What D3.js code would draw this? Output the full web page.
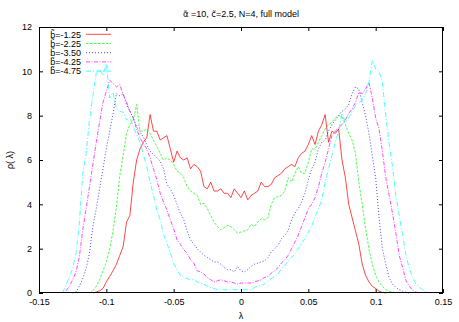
<!DOCTYPE html>
<html><head><meta charset="utf-8">
<script src="https://cdn.jsdelivr.net/npm/d3@7"></script>
<style>
body{margin:0;background:#fff;}
text{font-family:"Liberation Sans",Arial,sans-serif;fill:#000;}
</style></head>
<body><svg id="c" width="459" height="322"></svg>
<script>
const lambda = [-0.14,-0.1375,-0.135,-0.1325,-0.13,-0.1275,-0.125,-0.1225,-0.12,-0.1175,-0.115,-0.1125,-0.11,-0.1075,-0.105,-0.1025,-0.1,-0.0975,-0.095,-0.0925,-0.09,-0.0875,-0.085,-0.0825,-0.08,-0.0775,-0.075,-0.0725,-0.07,-0.0675,-0.065,-0.0625,-0.06,-0.0575,-0.055,-0.0525,-0.05,-0.0475,-0.045,-0.0425,-0.04,-0.0375,-0.035,-0.0325,-0.03,-0.0275,-0.025,-0.0225,-0.02,-0.0175,-0.015,-0.0125,-0.01,-0.0075,-0.005,-0.0025,0,0.0025,0.005,0.0075,0.01,0.0125,0.015,0.0175,0.02,0.0225,0.025,0.0275,0.03,0.0325,0.035,0.0375,0.04,0.0425,0.045,0.0475,0.05,0.0525,0.055,0.0575,0.06,0.0625,0.065,0.0675,0.07,0.0725,0.075,0.0775,0.08,0.0825,0.085,0.0875,0.09,0.0925,0.095,0.0975,0.1,0.1025,0.105,0.1075,0.11,0.1125,0.115,0.1175,0.12,0.1225,0.125,0.1275,0.13,0.1325,0.135,0.1375,0.14];

const rhoB125 = [null,null,null,null,null,null,null,null,null,null,null,null,
0.0,0.05,0.1,0.2,0.5,0.75,1.0,1.3,1.7,2.1,3.2,3.5,5.0,6.0,6.5,6.8,7.0,8.05,7.3,7.3,6.9,7.0,7.1,6.5,5.9,6.4,6.1,6.0,6.1,5.6,5.8,5.7,5.5,4.8,4.7,5.0,4.6,4.6,4.7,4.5,4.5,4.3,4.7,4.5,4.3,4.6,4.2,4.4,4.5,4.6,5.0,4.8,4.8,4.9,5.2,5.3,5.4,5.6,5.7,5.8,5.7,6.1,6.3,6.4,6.7,7.1,6.7,7.3,7.6,8.05,6.8,7.3,7.2,7.4,6.0,5.2,4.0,3.4,2.8,2.2,1.3,0.8,0.5,0.3,0.2,0.08,0.03,0.0,
null,null,null,null,null,null,null,null,null,null,null,null,null];

const rhoB225 = [null,null,null,null,null,null,null,null,null,null,null,
0.0,0.1,0.3,0.6,1.0,1.4,2.0,2.8,3.9,5.3,6.2,7.2,7.6,7.8,8.5,7.3,7.3,7.4,7.2,6.9,6.6,6.3,6.0,6.1,6.0,5.8,5.5,5.4,5.2,4.8,4.6,4.5,4.4,4.0,4.05,3.8,3.5,3.2,3.0,2.85,2.95,3.05,3.0,2.85,2.7,2.75,2.8,2.85,3.1,3.0,3.2,3.35,3.3,3.4,4.0,4.3,4.35,4.4,4.6,5.2,5.0,5.4,5.7,5.4,5.4,5.9,6.5,6.5,6.8,7.1,7.4,7.6,7.7,7.9,8.0,7.95,7.6,7.2,6.9,6.3,5.0,4.0,2.9,2.0,1.3,0.8,0.5,0.3,0.15,0.08,0.04,0.0,
null,null,null,null,null,null,null,null,null,null];

const rhoB350 = [null,null,null,null,null,null,
0.0,0.05,0.3,0.65,1.1,1.8,3.0,3.8,4.7,5.6,6.5,7.3,8.1,9.0,8.9,9.0,8.5,8.2,7.9,7.5,7.25,7.05,6.7,6.4,6.25,6.1,5.95,5.6,4.9,4.7,4.4,4.0,3.6,3.3,2.8,2.4,2.2,2.0,1.85,1.7,1.6,1.5,1.4,1.4,1.3,1.15,1.05,1.05,0.95,1.2,1.0,0.95,1.05,1.2,1.3,1.35,1.4,1.45,1.6,1.85,2.0,2.15,2.45,2.6,2.8,3.3,3.6,3.8,4.1,4.5,5.1,5.6,5.9,6.5,6.8,6.9,7.3,7.6,7.8,8.0,8.2,8.3,8.5,9.0,9.3,9.2,8.6,8.0,7.2,6.2,5.2,3.4,2.0,1.3,0.7,0.4,0.25,0.15,0.08,0.03,0.0,
null,null,null,null,null,null];

const rhoB425 = [null,null,null,null,
0.1,0.3,0.6,0.95,1.65,2.85,3.8,4.8,5.8,6.8,7.7,8.6,9.1,9.6,9.45,9.3,9.4,8.95,8.6,8.2,7.9,7.4,7.0,6.75,6.5,6.1,5.6,5.1,4.5,4.1,3.75,3.3,2.9,2.4,2.2,1.95,1.8,1.5,1.35,1.0,0.95,0.85,0.7,0.6,0.5,0.55,0.6,0.55,0.5,0.5,0.45,0.4,0.45,0.45,0.45,0.45,0.5,0.55,0.6,0.7,0.75,0.9,1.0,1.15,1.35,1.5,1.7,2.0,2.3,2.6,3.0,3.4,3.8,4.0,4.3,4.8,5.4,5.9,6.5,7.1,7.3,7.45,7.6,7.8,8.1,8.3,8.6,9.05,9.0,9.2,9.5,8.8,7.9,7.4,6.4,5.2,4.4,3.6,2.7,1.7,1.15,0.55,0.3,0.12,0.04,0.0,
null,null,null];

const rhoB475 = [null,null,null,
0.0,0.35,0.7,1.1,1.8,3.2,5.4,6.3,7.8,8.9,9.9,10.1,9.8,10.35,8.8,9.05,8.3,8.2,8.15,7.8,7.95,7.5,7.15,6.8,6.25,5.7,5.0,4.4,3.75,3.3,2.65,2.25,1.8,1.35,1.05,0.8,0.7,0.65,0.6,0.6,0.5,0.45,0.4,0.3,0.25,0.2,0.15,0.15,0.15,0.15,0.15,0.15,0.15,0.15,0.15,0.15,0.15,0.25,0.3,0.35,0.4,0.55,0.65,0.75,0.85,1.1,1.25,1.45,1.6,1.75,2.0,2.25,2.45,2.75,3.0,3.45,3.8,4.2,5.0,5.6,6.2,6.8,7.3,8.1,7.7,7.9,8.2,8.45,8.6,8.7,9.0,9.5,10.5,10.1,10.0,9.5,8.0,6.75,5.7,4.4,3.5,2.6,1.7,1.1,0.7,0.4,0.25,0.15,0.05,0.0];

const seriesLabels = ["b\u0303=-1.25","b\u0303=-2.25","b\u0303=-3.50","b\u0303=-4.25","b\u0303=-4.75"];
const xTicks = [-0.15,-0.1,-0.05,0,0.05,0.1,0.15];
const xTickLabels = ["-0.15","-0.1","-0.05","0","0.05","0.1","0.15"];
const yTicks = [0,2,4,6,8,10,12];
const titleParts = [["\u03b1\u0303",true],[" =10, ",false],["c\u0303",true],["=2.5, N=4, full model",false]];
const xLabel = "\u03bb";
const yLabel = "\u03c1( \u03bb)";

const series = [rhoB125, rhoB225, rhoB350, rhoB425, rhoB475];
const colors = ["#ff0000","#00ff00","#0000ff","#ff00ff","#00ffff"];
const dashes = [null,"2.5,1.5","1,2","4,1.5,1,1.5","5,2,1,2"];

const svg = d3.select("#c");
const L=39, R=443, T=27, B=293;
const x = d3.scaleLinear().domain([-0.15,0.15]).range([L,R]);
const y = d3.scaleLinear().domain([0,12]).range([B,T]);

// axes
const fmt = d => xTickLabels[xTicks.indexOf(d)];
const gB = svg.append("g").attr("transform",`translate(0,${B})`)
  .call(d3.axisBottom(x).tickValues(xTicks).tickFormat(fmt).tickSizeInner(-4).tickSizeOuter(0).tickPadding(6));
const gT = svg.append("g").attr("transform",`translate(0,${T})`)
  .call(d3.axisTop(x).tickValues(xTicks).tickFormat("").tickSizeInner(-4).tickSizeOuter(0));
const gL = svg.append("g").attr("transform",`translate(${L},0)`)
  .call(d3.axisLeft(y).tickValues(yTicks).tickFormat(d=>String(d)).tickSizeInner(-4).tickSizeOuter(0).tickPadding(7));
const gR = svg.append("g").attr("transform",`translate(${R},0)`)
  .call(d3.axisRight(y).tickValues(yTicks).tickFormat("").tickSizeInner(-4).tickSizeOuter(0));
[gB,gT,gL,gR].forEach(g=>{
  g.selectAll(".domain").remove();
  g.selectAll("line").attr("stroke","#000");
  g.selectAll("text").attr("font-size","9px").attr("fill","#000").style("font-family","Liberation Sans, Arial, sans-serif");
});
gL.selectAll("text").attr("dy","0.3em");

// series
const line = d3.line().defined(d=>d[1]!==null).x(d=>x(d[0])).y(d=>y(d[1]));
series.forEach((s,i)=>{
  const pts = lambda.map((l,j)=>[l,s[j]]);
  svg.append("path").datum(pts).attr("d",line)
    .attr("fill","none").attr("stroke",colors[i]).attr("stroke-width",0.9).attr("stroke-opacity",0.8)
    .attr("stroke-dasharray",dashes[i]);
});

// border
svg.append("rect").attr("x",L+0.5).attr("y",T+0.5).attr("width",R-L-1).attr("height",B-T-1)
  .attr("fill","none").attr("stroke","#000").attr("stroke-width",1);

// legend
seriesLabels.forEach((lab,i)=>{
  const cy = 34.3 + i*9.2;
  svg.append("text").attr("x",81).attr("y",cy+3.2).attr("text-anchor","end").attr("font-size","9px").text(lab);
  svg.append("line").attr("x1",86).attr("x2",111).attr("y1",cy).attr("y2",cy)
    .attr("stroke",colors[i]).attr("stroke-width",0.9).attr("stroke-opacity",0.8).attr("stroke-dasharray",dashes[i]);
});

// title & labels
const tt = svg.append("text").attr("x",241).attr("y",17).attr("text-anchor","middle").attr("font-size","9px");
titleParts.forEach(([s,dv])=>{
  const ts = tt.append("tspan").text(s);
  if(dv) ts.style("font-family","DejaVu Sans, sans-serif").attr("font-size","8.5px");
});
svg.append("text").attr("x",241).attr("y",319).attr("text-anchor","middle").attr("font-size","9px").text(xLabel);
svg.append("text").attr("transform","translate(13,160) rotate(-90)").attr("text-anchor","middle").attr("font-size","9px").text(yLabel);
</script></body></html>
